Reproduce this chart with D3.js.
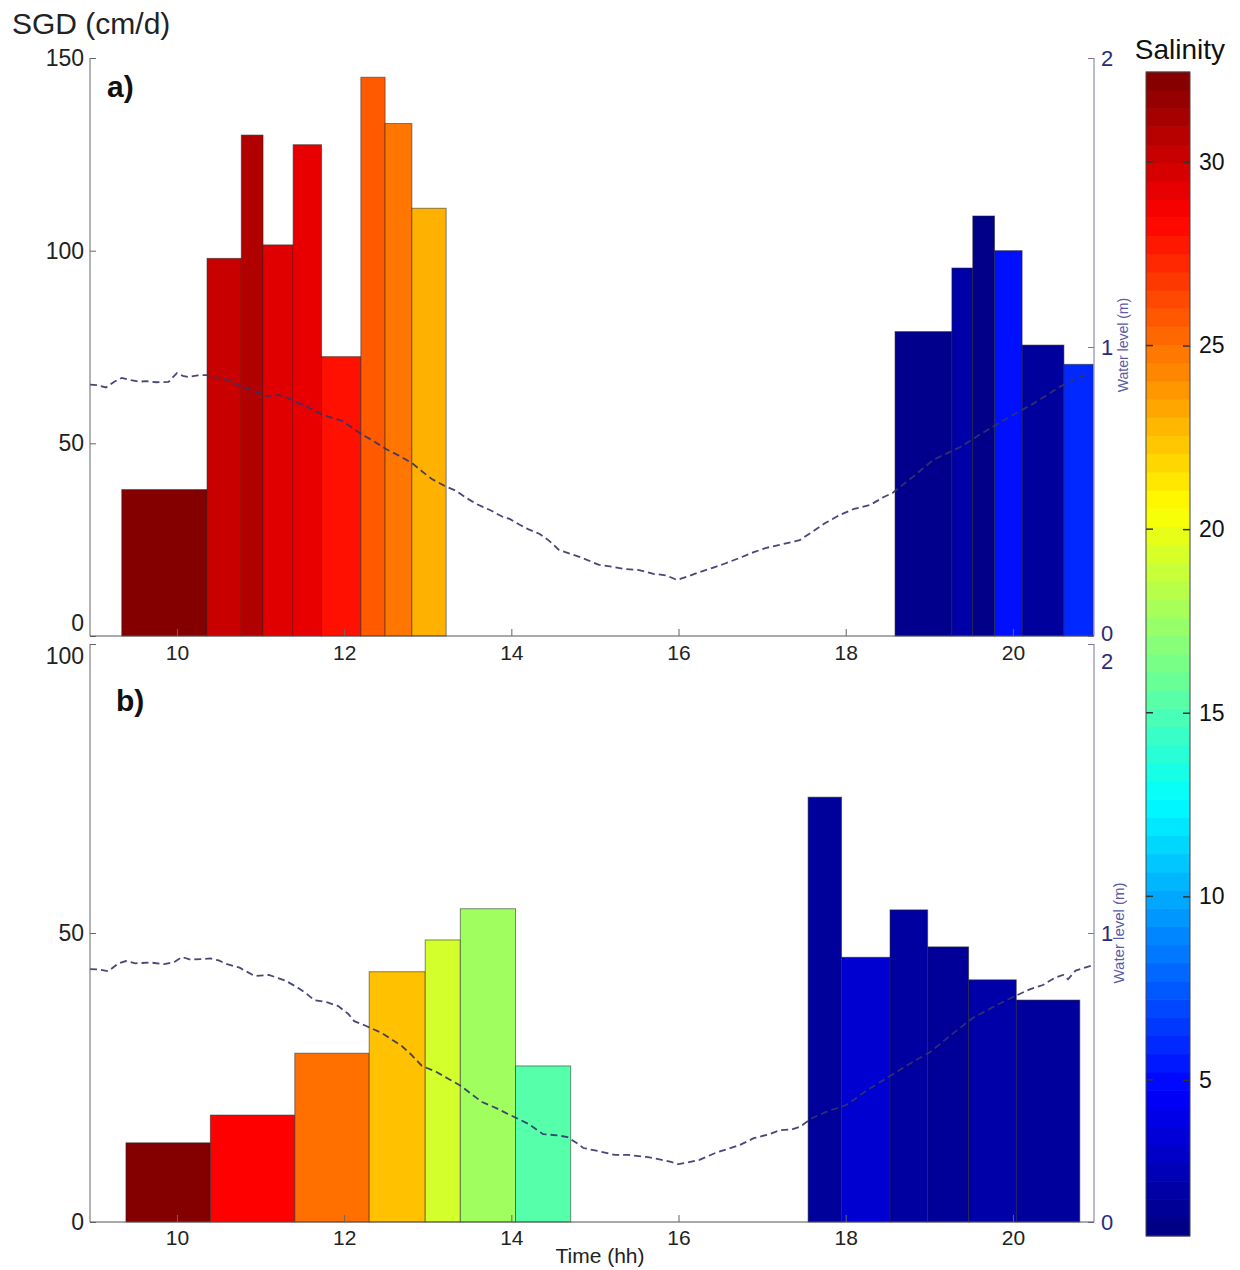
<!DOCTYPE html>
<html><head><meta charset="utf-8">
<script src="https://cdn.jsdelivr.net/npm/d3@7"></script>
<style>body{margin:0;background:#fff}svg{display:block}</style>
</head><body>
<script>
// ---------------- DATA ----------------
const xTicks = [10, 12, 14, 16, 18, 20];
const sgdTicksA = [0, 50, 100, 150];
const sgdTicksB = [0, 50, 100];
const wlTicks = [0, 1, 2];
const salTicks = [5, 10, 15, 20, 25, 30];

// panel a bars (time in hours)
const aStart = [9.34, 10.36, 10.77, 11.03, 11.39, 11.73, 12.20, 12.49, 12.81, 18.59, 19.27, 19.52, 19.78, 20.11, 20.61];
const aEnd   = [10.36, 10.77, 11.03, 11.39, 11.73, 12.20, 12.49, 12.81, 13.22, 19.27, 19.52, 19.78, 20.11, 20.61, 20.96];
const aSGD   = [38, 98, 130, 101.5, 127.5, 72.5, 145, 133, 111, 79, 95.5, 109, 100, 75.5, 70.5];
const aSal   = [32.3, 30.2, 30.95, 29.45, 29.2, 28.0, 25.7, 24.8, 23.0, 1.14, 2.0, 1.0, 5.2, 1.64, 5.95];

// panel b bars
const bStart = [9.39, 10.40, 11.41, 12.30, 12.97, 13.39, 14.05, 17.55, 17.95, 18.53, 18.98, 19.47, 20.04];
const bEnd   = [10.40, 11.41, 12.30, 12.97, 13.39, 14.05, 14.71, 17.95, 18.53, 18.98, 19.47, 20.04, 20.80];
const bSGD   = [13.7, 18.5, 29.2, 43.3, 48.8, 54.2, 27.0, 73.5, 45.8, 54.0, 47.6, 41.9, 38.4];
const bSal   = [32.3, 28.5, 25.0, 22.5, 19.2, 17.6, 15.3, 1.57, 3.25, 1.76, 1.51, 2.01, 1.64];

// water level (m)
const aTime = [8.96,9.05,9.15,9.25,9.34,9.45,9.55,9.63,9.75,9.90,9.95,10.00,10.07,10.14,10.25,10.36,10.45,10.54,10.65,10.75,10.83,10.95,11.07,11.20,11.31,11.42,11.54,11.64,11.74,11.86,11.98,12.10,12.22,12.35,12.50,12.65,12.81,12.93,13.05,13.20,13.34,13.45,13.58,13.75,13.90,13.98,14.10,14.20,14.34,14.45,14.57,14.70,14.85,15.05,15.20,15.35,15.53,15.70,15.85,15.98,16.10,16.25,16.40,16.55,16.73,16.90,17.05,17.21,17.35,17.45,17.60,17.75,17.93,18.10,18.29,18.45,18.56,18.80,19.05,19.37,19.65,19.96,20.25,20.56,20.75,20.92];
const aLevel = [0.870,0.868,0.860,0.880,0.893,0.885,0.880,0.882,0.878,0.879,0.895,0.910,0.900,0.896,0.902,0.903,0.895,0.893,0.880,0.866,0.858,0.845,0.830,0.834,0.827,0.810,0.796,0.780,0.765,0.755,0.744,0.720,0.696,0.675,0.647,0.625,0.599,0.570,0.543,0.520,0.502,0.480,0.457,0.435,0.412,0.405,0.385,0.370,0.353,0.330,0.298,0.285,0.270,0.246,0.240,0.232,0.228,0.215,0.210,0.194,0.205,0.221,0.235,0.250,0.270,0.290,0.305,0.315,0.325,0.332,0.360,0.390,0.419,0.440,0.453,0.480,0.495,0.550,0.610,0.654,0.705,0.758,0.805,0.862,0.890,0.910];
const bTime = [8.96,9.05,9.18,9.30,9.39,9.50,9.68,9.85,9.97,10.06,10.16,10.30,10.40,10.50,10.60,10.75,10.93,11.10,11.17,11.30,11.45,11.55,11.64,11.80,11.93,12.05,12.12,12.25,12.45,12.55,12.69,12.80,12.93,13.10,13.25,13.40,13.54,13.65,13.82,13.95,14.06,14.20,14.38,14.55,14.67,14.80,14.86,15.05,15.24,15.40,15.62,15.80,15.91,16.00,16.10,16.25,16.45,16.73,16.90,17.10,17.21,17.35,17.45,17.60,17.80,18.01,18.25,18.53,18.75,19.01,19.25,19.52,19.80,20.05,20.20,20.36,20.50,20.60,20.66,20.75,20.96];
const bLevel = [0.875,0.874,0.868,0.895,0.903,0.895,0.898,0.892,0.900,0.917,0.908,0.910,0.912,0.905,0.892,0.880,0.851,0.855,0.848,0.835,0.810,0.790,0.768,0.760,0.747,0.720,0.695,0.680,0.654,0.635,0.609,0.580,0.540,0.520,0.495,0.470,0.439,0.415,0.394,0.375,0.360,0.340,0.304,0.300,0.294,0.270,0.256,0.245,0.232,0.232,0.225,0.215,0.208,0.200,0.205,0.215,0.240,0.266,0.290,0.305,0.318,0.320,0.329,0.360,0.385,0.405,0.455,0.505,0.545,0.588,0.645,0.706,0.750,0.785,0.805,0.820,0.845,0.855,0.840,0.870,0.889];

const salMin = 0.75, salMax = 32.45;

// ---------------- DRAW ----------------
const W = 1240, H = 1270;
const FONT = "'Liberation Sans', Arial, Helvetica, sans-serif";
const svg = d3.select("body").append("svg").attr("width", W).attr("height", H)
  .style("font-family", FONT);

function clamp(v){ return Math.max(0, Math.min(1, v)); }
function jet(t){
  t = clamp(t);
  const r = clamp(1.5 - Math.abs(4*t - 3));
  const g = clamp(1.5 - Math.abs(4*t - 2));
  const b = clamp(1.5 - Math.abs(4*t - 1));
  return d3.rgb(r*255, g*255, b*255).formatHex();
}
const salT = d3.scaleLinear().domain([salMin, salMax]).range([0, 1]);
const salColor = s => jet(salT(s));

const L = 90, R = 1094;
const x = d3.scaleLinear().domain([8.96, 20.97]).range([L, R]);

const panels = [
  {top: 58, bottom: 636, sgdMax: 150, sgdTicks: sgdTicksA, start: aStart, end: aEnd, sgd: aSGD, sal: aSal,
   time: aTime, level: aLevel, label: "a)", labelX: 107, labelY: 97, wlX: 1128, wlY: 345, wlSize: 14,
   xLabPad: 9},
  {top: 644, bottom: 1222, sgdMax: 100, sgdTicks: sgdTicksB, start: bStart, end: bEnd, sgd: bSGD, sal: bSal,
   time: bTime, level: bLevel, label: "b)", labelX: 116, labelY: 711, wlX: 1124, wlY: 933, wlSize: 15,
   xLabPad: 8}
];

panels.forEach((p, pi) => {
  const y = d3.scaleLinear().domain([0, p.sgdMax]).range([p.bottom, p.top]);
  const yw = d3.scaleLinear().domain([0, 2]).range([p.bottom, p.top]);
  const g = svg.append("g");

  // bars
  const idx = d3.range(p.start.length);
  g.selectAll("rect.bar").data(idx).join("rect").attr("class", "bar")
    .attr("x", i => x(p.start[i]))
    .attr("width", i => x(p.end[i]) - x(p.start[i]))
    .attr("y", i => y(p.sgd[i]))
    .attr("height", i => y(0) - y(p.sgd[i]))
    .attr("fill", i => salColor(p.sal[i]))
    .attr("stroke", "rgba(40,40,40,0.55)")
    .attr("stroke-width", 1);

  // water level dashed line
  const line = d3.line().x(i => x(p.time[i])).y(i => yw(p.level[i]));
  g.append("path").datum(d3.range(p.time.length))
    .attr("d", line).attr("fill", "none")
    .attr("stroke", "#33336a").attr("stroke-width", 1.8)
    .attr("stroke-dasharray", "7,4").attr("opacity", 0.9);

  // left axis
  const la = g.append("g").attr("transform", `translate(${L},0)`)
    .call(d3.axisLeft(y).tickValues(p.sgdTicks).tickSizeInner(-6).tickSizeOuter(0).tickPadding(6));
  la.select(".domain").attr("stroke", "#666").attr("d", `M0,${p.bottom}V${p.top}`);
  la.selectAll(".tick line").attr("stroke", "#666");
  la.selectAll(".tick text").attr("font-size", 23).attr("fill", "#222").style("font-family", FONT);
  la.selectAll(".tick text").attr("dy", d => {
    if (pi === 0 && d === 0) return "-0.25em";
    if (pi === 1 && d === 100) return "0.85em";
    return "0.32em";
  });

  // right axis (water level)
  const ra = g.append("g").attr("transform", `translate(${R},0)`)
    .call(d3.axisRight(yw).tickValues(wlTicks).tickFormat(d3.format("d")).tickSizeInner(-6).tickSizeOuter(0).tickPadding(7));
  ra.select(".domain").attr("stroke", "#77779a").attr("d", `M0,${p.bottom}V${p.top}`);
  ra.selectAll(".tick line").attr("stroke", "#77779a");
  ra.selectAll(".tick text").attr("font-size", 22).attr("fill", "#2a2a78").style("font-family", FONT)
    .attr("dy", d => {
      if (pi === 1 && d === 2) return "1.1em";
      if (pi === 0 && d === 0) return "0.2em";
      return "0.32em";
    });

  // bottom axis
  const ba = g.append("g").attr("transform", `translate(0,${p.bottom})`)
    .call(d3.axisBottom(x).tickValues(xTicks).tickSizeInner(-7).tickSizeOuter(0).tickPadding(p.xLabPad));
  ba.select(".domain").attr("stroke", "#555").attr("d", `M${L},0H${R}`);
  ba.selectAll(".tick line").attr("stroke", "#666");
  ba.selectAll(".tick text").attr("font-size", 21).attr("fill", "#222").style("font-family", FONT);

  // panel label
  g.append("text").attr("x", p.labelX).attr("y", p.labelY).text(p.label)
    .attr("font-size", 30).attr("font-weight", "bold").attr("fill", "#111");

  // water level title
  g.append("text").attr("transform", `translate(${p.wlX},${p.wlY}) rotate(-90)`)
    .attr("text-anchor", "middle").attr("font-size", p.wlSize).attr("fill", "#5b5ba5")
    .text("Water level (m)");
});

// titles
svg.append("text").attr("x", 12).attr("y", 34).text("SGD (cm/d)")
  .attr("font-size", 30).attr("fill", "#222");
svg.append("text").attr("x", 600).attr("y", 1263).attr("text-anchor", "middle")
  .text("Time (hh)").attr("font-size", 21).attr("fill", "#222");

// colorbar
const cbX = 1146, cbW = 44, cbTop = 72, cbBot = 1236;
const cy = d3.scaleLinear().domain([salMin, salMax]).range([cbBot, cbTop]);
const nBands = 64;
const bandStep = (salMax - salMin) / nBands;
const bands = d3.range(nBands).map(i => salMin + i * bandStep);
const cb = svg.append("g");
cb.selectAll("rect").data(bands).join("rect")
  .attr("x", cbX).attr("width", cbW)
  .attr("y", d => cy(d + bandStep) - 0.3)
  .attr("height", d => cy(d) - cy(d + bandStep) + 0.6)
  .attr("fill", (d, i) => jet((i + 0.5) / nBands));
cb.append("rect").attr("x", cbX).attr("y", cbTop).attr("width", cbW).attr("height", cbBot - cbTop)
  .attr("fill", "none").attr("stroke", "#444").attr("stroke-width", 1);
const cba = cb.append("g").attr("transform", `translate(${cbX + cbW},0)`)
  .call(d3.axisRight(cy).tickValues(salTicks).tickSizeInner(-7).tickSizeOuter(0).tickPadding(9));
cba.select(".domain").remove();
cba.selectAll(".tick line").attr("stroke", "#333").attr("stroke-width", 1.5);
cba.selectAll(".tick text").attr("font-size", 23).attr("fill", "#111").style("font-family", FONT);
cb.selectAll(".ltick").data(salTicks).join("line").attr("class", "ltick")
  .attr("x1", cbX).attr("x2", cbX + 7).attr("y1", d => cy(d)).attr("y2", d => cy(d))
  .attr("stroke", "#333").attr("stroke-width", 1.5);
svg.append("text").attr("x", 1180).attr("y", 59).attr("text-anchor", "middle")
  .text("Salinity").attr("font-size", 28).attr("fill", "#111");
</script>
</body></html>
